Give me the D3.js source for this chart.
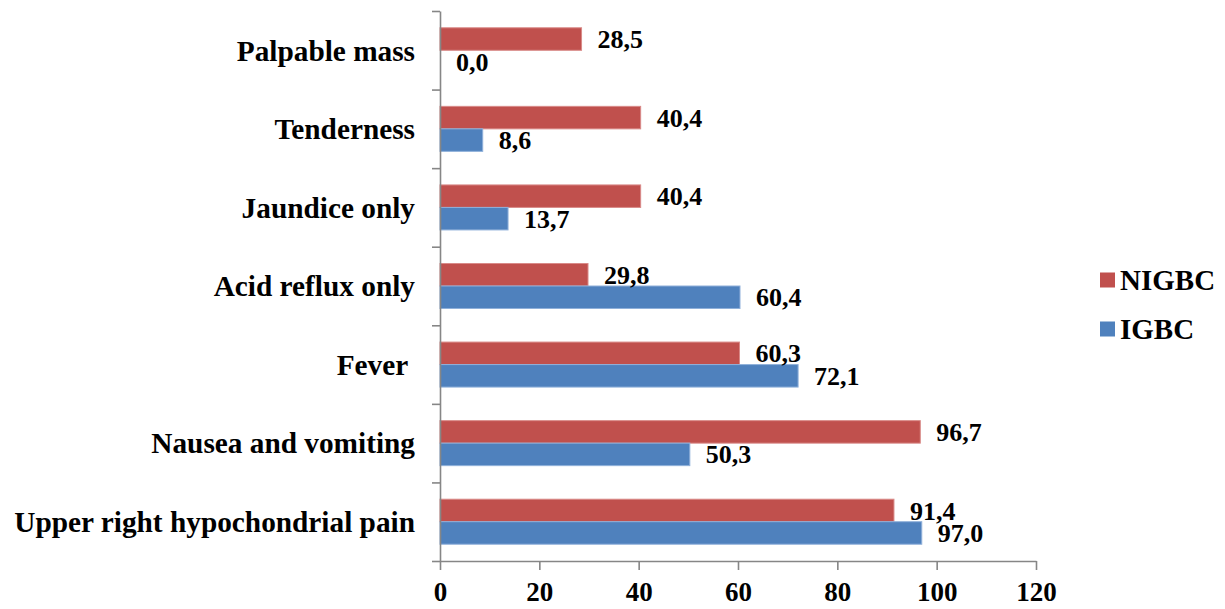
<!DOCTYPE html>
<html>
<head>
<meta charset="utf-8">
<script src="https://cdn.jsdelivr.net/npm/d3@7"></script>
<style>
  body { margin: 0; background: #fff; }
</style>
</head>
<body>
<div id="chart"></div>
<script>
// categories top to bottom
const categories = [
  "Palpable mass",
  "Tenderness",
  "Jaundice only",
  "Acid reflux only",
  "Fever ",
  "Nausea and vomiting",
  "Upper right hypochondrial pain"
];
const seriesNames = ["NIGBC", "IGBC"];
const nigbc = [28.5, 40.4, 40.4, 29.8, 60.3, 96.7, 91.4];
const igbc = [0.0, 8.6, 13.7, 60.4, 72.1, 50.3, 97.0];
const xTicks = [0, 20, 40, 60, 80, 100, 120];

const width = 1225;
const height = 609;
const font = "'Liberation Serif', 'Times New Roman', serif";
const colors = { NIGBC: "#C0504D", IGBC: "#4F81BD" };
const strokes = { NIGBC: "#d98a88", IGBC: "#8fb0da" };

const plot = { left: 440, right: 1036, top: 11, bottom: 561 };

const svg = d3
  .select("#chart")
  .append("svg")
  .attr("width", width)
  .attr("height", height)
  .attr("font-family", font)
  .attr("font-weight", "bold");

const xScale = d3.scaleLinear().domain([0, 120]).range([plot.left, plot.right]);

const step = (plot.bottom - plot.top) / categories.length;
const pad = 1 - 45 / step;
const yScale = d3
  .scaleBand()
  .domain(categories)
  .range([plot.top, plot.bottom])
  .paddingInner(pad)
  .paddingOuter(pad / 2);

const ySub = d3.scaleBand().domain(seriesNames).range([0, yScale.bandwidth()]);

const rows = categories.map((c, i) => ({
  cat: c,
  values: [
    { key: "NIGBC", value: nigbc[i] },
    { key: "IGBC", value: igbc[i] }
  ]
}));

const fmt = (v) => d3.format(".1f")(v).replace(".", ",");

const groups = svg
  .selectAll(".grp")
  .data(rows)
  .enter()
  .append("g")
  .attr("class", "grp")
  .attr("transform", (d) => `translate(0,${yScale(d.cat)})`);

groups
  .selectAll("rect")
  .data((d) => d.values)
  .enter()
  .append("rect")
  .attr("x", xScale(0))
  .attr("y", (d) => ySub(d.key))
  .attr("width", (d) => xScale(d.value) - xScale(0))
  .attr("height", ySub.bandwidth())
  .attr("fill", (d) => colors[d.key])
  .attr("stroke", (d) => (d.value > 0 ? strokes[d.key] : "none"))
  .attr("stroke-width", 1);

// value labels
groups
  .selectAll(".val")
  .data((d) => d.values)
  .enter()
  .append("text")
  .attr("class", "val")
  .attr("x", (d) => xScale(d.value) + 16)
  .attr("y", (d) => ySub(d.key) + ySub.bandwidth() / 2)
  .attr("dy", "0.35em")
  .attr("font-size", 26)
  .text((d) => fmt(d.value));

// category labels
svg
  .selectAll(".cat")
  .data(categories)
  .enter()
  .append("text")
  .attr("class", "cat")
  .attr("x", 415)
  .attr("y", (d) => yScale(d) + yScale.bandwidth() / 2)
  .attr("dy", "0.35em")
  .attr("text-anchor", "end")
  .attr("font-size", 29.3)
  .style("white-space", "pre")
  .text((d) => d);

// y axis with ticks between categories
const yEdge = d3.scaleLinear().domain([0, categories.length]).range([plot.top, plot.bottom]);
const yAxis = svg
  .append("g")
  .attr("transform", `translate(${plot.left},0)`)
  .call(
    d3.axisLeft(yEdge)
      .tickValues(d3.range(0, categories.length + 1))
      .tickSize(8)
      .tickSizeOuter(0)
      .tickFormat("")
  );

// x axis
const xAxis = svg
  .append("g")
  .attr("transform", `translate(0,${plot.bottom})`)
  .call(d3.axisBottom(xScale).tickValues(xTicks).tickSize(9).tickSizeOuter(0).tickPadding(12));

xAxis.attr("font-family", font).attr("font-size", null);
xAxis.selectAll("text").attr("font-size", 27).attr("fill", "#000");
yAxis.attr("font-family", font);

[yAxis, xAxis].forEach((a) => {
  a.select(".domain").attr("stroke", "#868686").attr("stroke-width", 1.6);
  a.selectAll(".tick line").attr("stroke", "#868686").attr("stroke-width", 1.6);
});

// legend
const legend = svg
  .selectAll(".leg")
  .data(seriesNames)
  .enter()
  .append("g")
  .attr("class", "leg")
  .attr("transform", (d, i) => `translate(1100,${280 + i * 49})`);

legend
  .append("rect")
  .attr("x", 0)
  .attr("y", -7.5)
  .attr("width", 15)
  .attr("height", 15)
  .attr("fill", (d) => colors[d]);

legend
  .append("text")
  .attr("x", 20)
  .attr("y", 0)
  .attr("dy", "0.35em")
  .attr("font-size", 29)
  .text((d) => d);
</script>
</body>
</html>
